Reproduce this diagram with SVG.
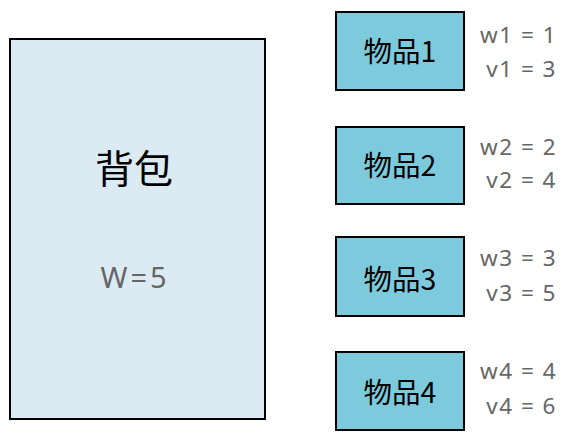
<svg xmlns="http://www.w3.org/2000/svg" width="585" height="445" viewBox="0 0 585 445">
<style>
.box{stroke:#000;stroke-width:2}
.bag{fill:#dcebf3}
.item{fill:#7ecadd}
.lbl{font-family:"Noto Sans CJK SC","Noto Sans",sans-serif;font-size:28.5px;fill:#000;text-anchor:middle}
.attr{font-family:"Noto Sans","Noto Sans CJK SC",sans-serif;font-size:22.5px;fill:#666;text-anchor:end;letter-spacing:1.5px}
</style>
<rect width="585" height="445" fill="#fff"/>
<g id="bag">
<rect class="box bag" x="10" y="39" width="255" height="380"/>
<text x="134" y="183" font-family="'Noto Sans CJK SC',sans-serif" font-size="39" text-anchor="middle" fill="#000">背包</text>
<text x="135" y="288" font-family="'Noto Sans','Noto Sans CJK SC',sans-serif" font-size="29" text-anchor="middle" fill="#666" letter-spacing="3">W=5</text>
</g>
<g id="item1">
<rect class="box item" x="336" y="12" width="128" height="78"/>
<text class="lbl" x="400" y="62">物品1</text>
<text class="attr" x="557" y="43">w1 = 1</text>
<text class="attr" x="557" y="77">v1 = 3</text>
</g>
<g id="item2">
<rect class="box item" x="336" y="127" width="128" height="77"/>
<text class="lbl" x="400" y="176">物品2</text>
<text class="attr" x="557" y="155">w2 = 2</text>
<text class="attr" x="557" y="188">v2 = 4</text>
</g>
<g id="item3">
<rect class="box item" x="336" y="237" width="128" height="79"/>
<text class="lbl" x="400" y="290">物品3</text>
<text class="attr" x="557" y="266">w3 = 3</text>
<text class="attr" x="557" y="301">v3 = 5</text>
</g>
<g id="item4">
<rect class="box item" x="336" y="352" width="128" height="78"/>
<text class="lbl" x="400" y="403">物品4</text>
<text class="attr" x="557" y="379">w4 = 4</text>
<text class="attr" x="557" y="414">v4 = 6</text>
</g>
<g id="connectors"></g>
</svg>
